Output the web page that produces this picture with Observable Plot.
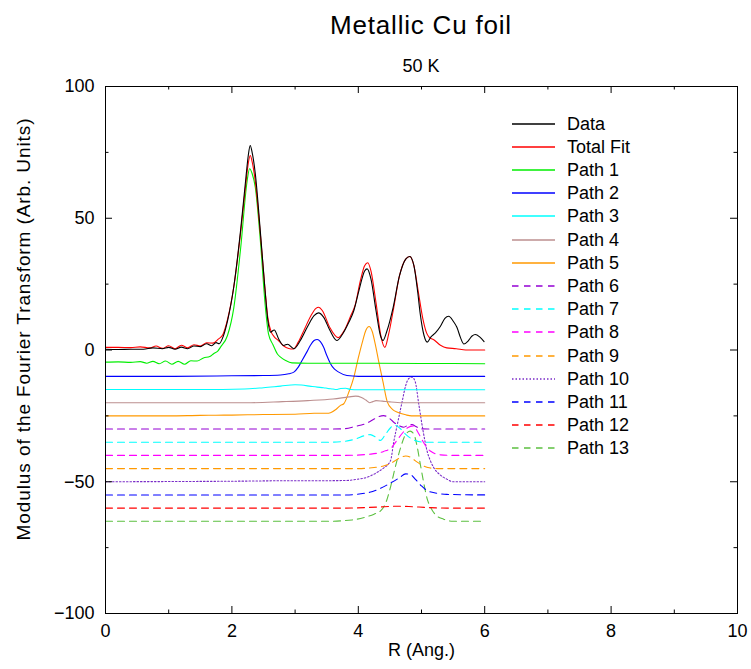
<!DOCTYPE html>
<html>
<head>
<meta charset="utf-8">
<script src="https://cdn.jsdelivr.net/npm/d3@7"></script>
<script src="https://cdn.jsdelivr.net/npm/@observablehq/plot@0.6"></script>
<style>
  body { margin: 0; background: white; }
  #wrap { position: relative; width: 751px; height: 669px; font-family: "Liberation Sans", Arial, sans-serif; }
  .ov { position: absolute; left: 0; top: 0; pointer-events: none; }
</style>
</head>
<body>
<div id="wrap"></div>
<script>
// ---------- chart text ----------
const chartTitle = "Metallic Cu foil";
const chartSubtitle = "50 K";
const xLabel = "R (Ang.)";
const yLabel = "Modulus of the Fourier Transform (Arb. Units)";

// ---------- axes ----------
const xMajorTicks = [0, 2, 4, 6, 8, 10];
const xMinorTicks = [1, 3, 5, 7, 9];
const yMajorTicks = [-100, -50, 0, 50, 100];
const yMinorTicks = [-75, -25, 25, 75];

// ---------- series ([R, value]) ----------
const dataCurve = [[0,0.3],[0.2,0.2],[0.4,0.3],[0.6,0.3],[0.75,0.8],[0.9,0.5],[1.0,1.0],[1.1,0.3],[1.2,1.1],[1.3,0.5],[1.4,1.5],[1.5,1.3],[1.6,2.4],[1.68,1.6],[1.75,2.8],[1.8,2.4],[1.86,5],[1.93,11],[2.03,24],[2.14,46],[2.22,65],[2.26,74],[2.29,77.6],[2.32,75],[2.37,67],[2.45,45],[2.52,24],[2.57,11],[2.61,6.8],[2.67,7.6],[2.74,4.2],[2.82,1.7],[2.88,2.2],[2.98,0.5],[3.08,3.5],[3.2,9],[3.3,13],[3.37,14.1],[3.45,12.5],[3.55,7.5],[3.66,3.6],[3.75,6],[3.85,10.5],[3.93,15],[4.02,23.5],[4.1,30],[4.14,30.8],[4.2,27],[4.28,15],[4.35,5.5],[4.39,3.6],[4.45,7],[4.55,16],[4.65,28],[4.75,34.5],[4.815,35.5],[4.88,32],[4.94,22],[4.98,13.7],[5.04,5.5],[5.09,3],[5.15,5],[5.22,6.5],[5.3,9],[5.37,12],[5.43,12.8],[5.5,11],[5.56,8.6],[5.62,4.5],[5.67,2.3],[5.74,3.5],[5.8,5.3],[5.85,5.9],[5.92,5],[5.99,3.2]];
const totalFit = [[0,1],[0.2,1],[0.4,0.9],[0.55,1.2],[0.7,0.8],[0.8,1.5],[0.9,0.6],[1.0,1.6],[1.1,0.5],[1.2,1.8],[1.3,0.8],[1.4,2],[1.5,1.5],[1.6,2.7],[1.7,2.6],[1.78,4],[1.86,6],[1.93,11.5],[2.03,24],[2.14,45],[2.22,63],[2.26,71],[2.29,73.8],[2.32,71.5],[2.37,64],[2.45,44],[2.52,24],[2.57,12],[2.62,7],[2.67,5],[2.74,3.5],[2.82,1.5],[2.9,0.6],[2.97,0.4],[3.05,3],[3.15,8],[3.25,13],[3.33,15.8],[3.37,16.2],[3.43,15],[3.55,8.5],[3.68,4.7],[3.78,7.5],[3.88,13],[3.95,17],[4.03,26],[4.1,32],[4.15,33.1],[4.2,30],[4.28,18],[4.36,5],[4.42,1],[4.48,6],[4.56,16],[4.65,28],[4.75,34.5],[4.815,35.5],[4.88,32],[4.95,22],[5.02,12],[5.08,6.5],[5.12,4.9],[5.2,3.8],[5.3,1.8],[5.4,0.8],[5.55,0.5],[5.7,0],[6,0]];
const path1 = [[0,-4.6],[0.2,-4.5],[0.4,-4.7],[0.55,-4.4],[0.65,-5],[0.75,-4.3],[0.85,-5.2],[0.95,-4.2],[1.05,-5.4],[1.15,-4.3],[1.25,-5.4],[1.35,-4.1],[1.45,-4.2],[1.55,-3],[1.65,-2.5],[1.71,-1.4],[1.78,-0.3],[1.82,1.1],[1.93,5.5],[2.03,16],[2.14,39],[2.24,64],[2.28,68.8],[2.32,67],[2.37,61.8],[2.45,41.6],[2.53,16.2],[2.58,6],[2.65,2],[2.72,-1.5],[2.77,-2.7],[2.85,-4],[2.95,-4.9],[3.2,-5],[4,-5],[5,-5.1],[6,-5.2]];
const path2 = [[0,-10],[1,-10],[2,-9.8],[2.5,-9.7],[2.77,-9.5],[2.9,-9],[2.98,-8.4],[3.05,-6.5],[3.11,-4],[3.18,-1],[3.24,1.7],[3.3,3.6],[3.35,4],[3.4,3.2],[3.45,1.1],[3.5,-2],[3.56,-5.2],[3.62,-7.2],[3.69,-8.4],[3.82,-9.7],[4,-10],[6,-10]];
const path3 = [[0,-15],[1.5,-15],[2.2,-14.8],[2.5,-14.3],[2.77,-13.7],[3.0,-13.2],[3.1,-13.3],[3.25,-13.8],[3.35,-14.1],[3.45,-14.3],[3.52,-14.6],[3.6,-14.8],[3.65,-15],[3.72,-14.6],[3.8,-14.5],[3.88,-15],[4,-15.1],[6,-15.1]];
const path4 = [[0,-20],[2.3,-20],[2.8,-19.6],[3.2,-19.2],[3.6,-18.6],[3.85,-17.8],[3.96,-17.5],[4.05,-18],[4.12,-19],[4.18,-20],[4.23,-19.6],[4.28,-19.2],[4.38,-19.4],[4.5,-19.7],[4.7,-20],[6,-20]];
const path5 = [[0,-25],[0.5,-25],[1.0,-25],[1.5,-24.8],[2,-24.7],[2.5,-24.5],[3.0,-24.4],[3.3,-24],[3.5,-24],[3.56,-23.8],[3.65,-22.5],[3.72,-21],[3.77,-20.4],[3.85,-16],[3.93,-10.3],[4.0,-3],[4.07,3.5],[4.12,7.5],[4.17,8.9],[4.22,7],[4.27,2],[4.32,-4],[4.39,-12],[4.46,-19.8],[4.54,-22.5],[4.62,-23.6],[4.75,-24.6],[4.84,-25],[6,-25]];
const path6 = [[0,-30],[3,-30],[3.5,-30],[3.77,-29.9],[3.95,-29],[4.13,-27.8],[4.25,-26.2],[4.33,-25.2],[4.40,-24.9],[4.47,-25.5],[4.56,-27.4],[4.65,-28.8],[4.72,-29.3],[4.79,-28.5],[4.85,-28.3],[4.91,-29],[4.98,-29.9],[5.1,-30],[6,-30]];
const path7 = [[0,-35],[3.5,-35],[3.77,-34.7],[3.95,-33.8],[4.1,-32.5],[4.19,-32.1],[4.27,-33],[4.35,-34.3],[4.43,-32],[4.51,-29.5],[4.58,-28.5],[4.65,-29.5],[4.75,-32],[4.85,-33.8],[4.95,-34.7],[5.05,-35],[6,-35]];
const path8 = [[0,-40],[3.8,-40],[4.2,-39.5],[4.4,-38.5],[4.53,-36.9],[4.62,-34],[4.7,-31.5],[4.78,-29.5],[4.87,-28.8],[4.95,-31.5],[5.03,-35],[5.1,-37.5],[5.17,-38.8],[5.3,-39.8],[5.5,-40],[6,-40]];
const path9 = [[0,-45],[4.0,-45],[4.25,-44.6],[4.4,-44],[4.55,-42.5],[4.65,-41],[4.75,-40.2],[4.82,-40.6],[4.9,-42],[5.0,-43.6],[5.1,-44.6],[5.25,-45],[6,-45]];
const path10 = [[0,-50],[2,-49.8],[3,-49.6],[3.5,-49.6],[3.82,-49.5],[4.0,-49],[4.14,-48.3],[4.3,-46.4],[4.4,-44.8],[4.51,-42],[4.56,-35],[4.62,-28],[4.69,-20],[4.75,-13.5],[4.8,-10.8],[4.85,-10.3],[4.9,-12],[4.96,-21],[5.02,-30],[5.09,-38.5],[5.14,-42],[5.19,-44.5],[5.3,-47.5],[5.4,-49],[5.5,-50],[6,-50]];
const path11 = [[0,-55],[3.8,-55],[4.18,-54],[4.35,-52.5],[4.53,-50.2],[4.65,-48.5],[4.75,-47],[4.82,-47.2],[4.9,-49],[5.0,-51.6],[5.1,-53.5],[5.25,-54.4],[5.4,-54.8],[6,-55]];
const path12 = [[0,-60],[3.8,-60],[4.3,-59.6],[4.6,-59.3],[4.8,-59.4],[5.1,-59.8],[5.4,-60],[6,-60]];
const path13 = [[0,-65],[3.5,-65],[3.9,-64.5],[4.1,-63.5],[4.25,-62.3],[4.36,-60.9],[4.45,-57],[4.51,-52],[4.59,-44],[4.67,-37],[4.75,-32],[4.82,-30.8],[4.88,-32],[4.93,-36.5],[4.98,-43.2],[5.04,-51],[5.09,-56.5],[5.14,-59.5],[5.22,-62.5],[5.35,-64.2],[5.5,-65],[5.95,-65]];

// ---------- legend / styles ----------
const seriesNames = ["Data","Total Fit","Path 1","Path 2","Path 3","Path 4","Path 5","Path 6","Path 7","Path 8","Path 9","Path 10","Path 11","Path 12","Path 13"];
const seriesData = [dataCurve,totalFit,path1,path2,path3,path4,path5,path6,path7,path8,path9,path10,path11,path12,path13];
const seriesColors = ["#000000","#ff0000","#00ee00","#0000ff","#00ffff","#bc8f8f","#ff9900","#9400d3","#00ffff","#ff00ff","#ff9900","#7a2cc8","#0000ff","#ff0000","#5cc040"];
const seriesDash = [null,null,null,null,null,null,null,"7,5","7,5","7,5","7,5","1.5,2","7,5","7,5","7,5"];

// ---------- plot ----------
const W = 751, H = 669, mT = 86, mB = 56, mL = 105, mR = 14;
const frameH = H - mT - mB, frameW = W - mL - mR;
const majorLen = 7, minorLen = 3.5;

const lineMarks = seriesData.map((s, i) => Plot.line(s, {
  x: d => d[0], y: d => d[1],
  stroke: seriesColors[i], strokeWidth: 1.1,
  strokeDasharray: seriesDash[i] || undefined,
  curve: "monotone-x"
}));

const chart = Plot.plot({
  width: W, height: H,
  marginTop: mT, marginBottom: mB, marginLeft: mL, marginRight: mR,
  x: {domain: [0, 10]},
  y: {domain: [-100, 100]},
  style: {fontFamily: '"Liberation Sans", Arial, sans-serif', fontSize: "18px", background: "white", color: "black"},
  marks: [
    ...lineMarks.slice().reverse(),
    Plot.frame({stroke: "black", strokeWidth: 1}),
    Plot.tickX(xMajorTicks, {x: d => d, insetTop: frameH - majorLen, stroke: "black"}),
    Plot.tickX(xMajorTicks, {x: d => d, insetBottom: frameH - majorLen, stroke: "black"}),
    Plot.tickX(xMinorTicks, {x: d => d, insetTop: frameH - minorLen, stroke: "black"}),
    Plot.tickX(xMinorTicks, {x: d => d, insetBottom: frameH - minorLen, stroke: "black"}),
    Plot.tickY(yMajorTicks, {y: d => d, insetRight: frameW - majorLen, stroke: "black"}),
    Plot.tickY(yMajorTicks, {y: d => d, insetLeft: frameW - majorLen, stroke: "black"}),
    Plot.tickY(yMinorTicks, {y: d => d, insetRight: frameW - minorLen, stroke: "black"}),
    Plot.tickY(yMinorTicks, {y: d => d, insetLeft: frameW - minorLen, stroke: "black"}),
    Plot.axisX({ticks: xMajorTicks, tickSize: 0, tickPadding: 11, label: null, fontSize: 18}),
    Plot.axisY({ticks: yMajorTicks, tickSize: 0, tickPadding: 11, label: null, fontSize: 18}),
    Plot.text([xLabel], {text: d => d, frameAnchor: "bottom", dy: 42, fontSize: 18})
  ]
});

const wrap = document.getElementById("wrap");
wrap.appendChild(chart);

// overlay: title, subtitle, y label, legend
const ov = d3.select(wrap).append("svg")
  .attr("class", "ov").attr("width", W).attr("height", H)
  .style("font-family", '"Liberation Sans", Arial, sans-serif');

ov.append("text").attr("x", 421).attr("y", 34).attr("text-anchor", "middle")
  .attr("font-size", 26).attr("letter-spacing", "0.8px").text(chartTitle);
ov.append("text").attr("x", 421).attr("y", 71.5).attr("text-anchor", "middle")
  .attr("font-size", 18).text(chartSubtitle);
ov.append("text").attr("transform", "translate(23,329) rotate(-90)")
  .attr("text-anchor", "middle").attr("dy", "0.35em")
  .attr("font-size", 19).attr("letter-spacing", "0.9px").text(yLabel);

const lg = ov.append("g");
seriesNames.forEach((name, i) => {
  const y = Math.round(123.5 + i * 23.2);
  lg.append("line").attr("x1", 512).attr("x2", 555).attr("y1", y).attr("y2", y)
    .attr("stroke", seriesColors[i]).attr("stroke-width", 1.3)
    .attr("stroke-dasharray", seriesDash[i] ? (seriesDash[i] === "1.5,2" ? "1.5,2" : "6.5,5.5") : null);
  lg.append("text").attr("x", 567).attr("y", y).attr("dy", "0.35em")
    .attr("font-size", 18).text(name);
});
</script>
</body>
</html>
